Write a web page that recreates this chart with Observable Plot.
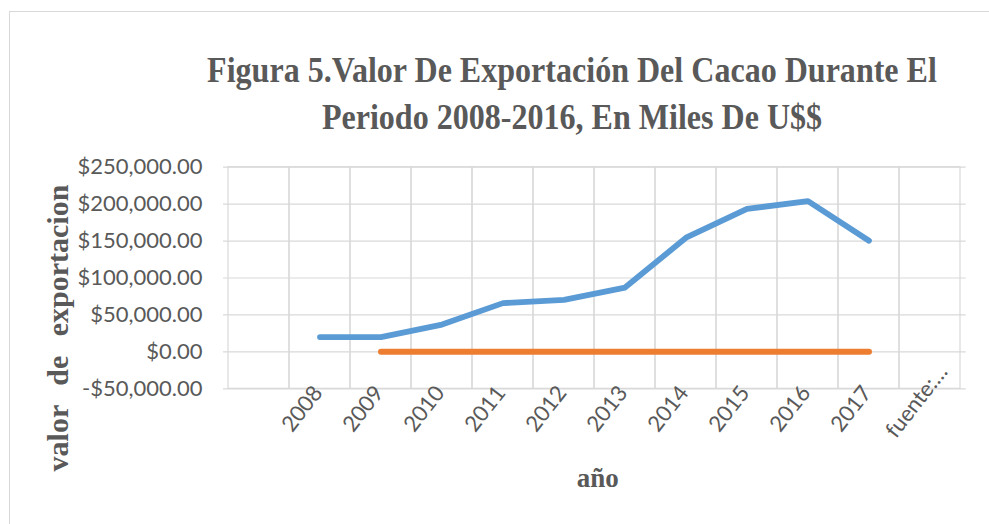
<!DOCTYPE html>
<html>
<head>
<meta charset="utf-8">
<script src="https://cdn.jsdelivr.net/npm/d3@7"></script>
<script src="https://cdn.jsdelivr.net/npm/@observablehq/plot@0.6"></script>
<style>
  html, body { margin: 0; padding: 0; background: #fff; overflow: hidden; }
  #wrap { position: absolute; left: 0; top: 0; width: 989px; height: 524px; }
  #border { position: absolute; left: 9px; top: 11px; width: 2000px; height: 1000px; border-left: 1.3px solid #d9d9d9; border-top: 1.4px solid #d9d9d9; }
  #title { position: absolute; left: -28px; width: 1200px; top: 46.8px; text-align: center; font-family: "Liberation Serif", "Times New Roman", serif; font-weight: bold; font-size: 36px; line-height: 46.7px; color: #595959; white-space: nowrap; transform: scaleX(0.89); transform-origin: 600px 0; }
  #chart { position: absolute; left: 0; top: 0; }
  #chart svg text { word-spacing: 12px; }
</style>
</head>
<body>
<div id="wrap">
  <div id="border"></div>
  <div id="chart"></div>
  <div id="title">Figura 5.Valor De Exportación Del Cacao Durante El<br>Periodo 2008-2016, En Miles De U$$</div>
</div>
<script>
// ---- data ----
const years = ["2008", "2009", "2010", "2011", "2012", "2013", "2014", "2015", "2016", "2017"];
const exportValues = [20000, 20000, 37000, 66000, 70500, 87000, 154500, 193500, 204000, 150500];
const secondYears = ["2009", "2010", "2011", "2012", "2013", "2014", "2015", "2016", "2017"];
const secondValues = [0, 0, 0, 0, 0, 0, 0, 0, 0];
const sourceLabel = "fuente:…";
const categories = ["", ...years, sourceLabel];
const yTicks = [-50000, 0, 50000, 100000, 150000, 200000, 250000];
const yTitle = "valor de exportacion";
const xTitle = "año";

const fmt = d => (d < 0 ? "-" : "") + "$" + d3.format(",.2f")(Math.abs(d));
const yMin = yTicks[0], yMax = yTicks[yTicks.length - 1];
const grid = "#d9d9d9";
const textColor = "#595959";

const chart = Plot.plot({
  width: 989,
  height: 524,
  marginLeft: 223,
  marginRight: 23.3,
  marginTop: 166.7,
  marginBottom: 135.7,
  style: { fontFamily: "Lato, sans-serif", fontSize: "22px", color: textColor, background: "transparent", overflow: "visible" },
  x: { type: "band", domain: categories, padding: 0, axis: null },
  y: { domain: [yMin, yMax], ticks: yTicks, tickSize: 0, tickPadding: 21, tickFormat: fmt, label: null },
  marks: [
    Plot.barY(categories, { x: d => d, y1: () => yMin, y2: () => yMax, fill: "none", stroke: grid, strokeWidth: 1.2 }),
    Plot.ruleY(yTicks, { stroke: grid, strokeWidth: 1.2 }),
    Plot.line(secondYears, { x: d => d, y: (d, i) => secondValues[i], stroke: "#ED7D31", strokeWidth: 6, strokeLinecap: "round", strokeLinejoin: "round" }),
    Plot.line(years, { x: d => d, y: (d, i) => exportValues[i], stroke: "#5B9BD5", strokeWidth: 5.8, strokeLinecap: "round", strokeLinejoin: "round" }),
    Plot.text(years, { x: d => d, text: d => d, frameAnchor: "bottom", rotate: -52, textAnchor: "end", lineAnchor: "middle", dx: -2, dy: 0, fill: textColor, fontSize: 22 }),
    Plot.text([sourceLabel], { x: d => d, text: d => d, frameAnchor: "bottom", rotate: -52, textAnchor: "end", lineAnchor: "middle", dx: 13, dy: -21, fill: textColor, fontSize: 22 }),
    Plot.text([yTitle], { text: d => d, frameAnchor: "left", rotate: -90, textAnchor: "middle", lineAnchor: "middle", dx: -165.5, dy: 50, fill: textColor, fontSize: 30, fontWeight: "bold", fontFamily: "Liberation Serif, serif" }),
    Plot.text([xTitle], { text: d => d, frameAnchor: "bottom", textAnchor: "middle", lineAnchor: "middle", dx: 3, dy: 89.1, fill: textColor, fontSize: 27, fontWeight: "bold", fontFamily: "Liberation Serif, serif" })
  ]
});
document.getElementById("chart").appendChild(chart);
</script>
</body>
</html>
